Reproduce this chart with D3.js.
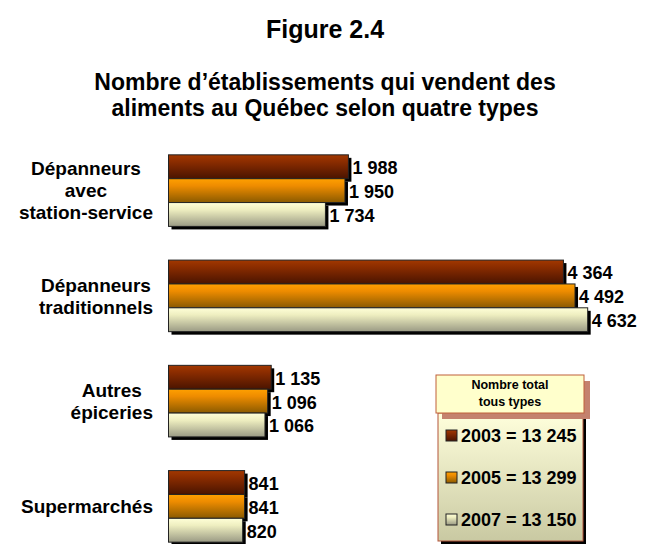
<!DOCTYPE html>
<html>
<head>
<meta charset="utf-8">
<script src="https://cdn.jsdelivr.net/npm/d3@7"></script>
<style>
  body { margin: 0; background: #fff; }
  text { font-family: "Liberation Sans", Arial, sans-serif; font-weight: bold; }
</style>
</head>
<body>
<script>
// Figure 2.4 - etablissements alimentaires au Quebec

var categories = [
  ["Dépanneurs", "avec", "station-service"],
  ["Dépanneurs", "traditionnels"],
  ["Autres", "épiceries"],
  ["Supermarchés"]
];
var years = ["2003", "2005", "2007"];
var v2003 = [1988, 4364, 1135, 841];
var v2005 = [1950, 4492, 1096, 841];
var v2007 = [1734, 4632, 1066, 820];
var totals = [13245, 13299, 13150];

var width = 650, height = 544;

var svg = d3.select("body").append("svg")
  .attr("width", width)
  .attr("height", height);

var fr = d3.formatLocale({decimal: ",", thousands: " ", grouping: [3], currency: ["", ""]});
var fmt = fr.format(",d");

// gradients
var grads = [
  ["#a33800", "#8a2c00", "#4a1400"],
  ["#ffa000", "#ee8c00", "#8a5a00"],
  ["#ffffd8", "#eeeec0", "#9a9a84"]
];
var defs = svg.append("defs");
grads.forEach(function(g, i) {
  var lg = defs.append("linearGradient")
    .attr("id", "g" + i)
    .attr("x1", 0).attr("y1", 0).attr("x2", 0).attr("y2", 1);
  lg.append("stop").attr("offset", "0%").attr("stop-color", g[0]);
  lg.append("stop").attr("offset", "30%").attr("stop-color", g[1]);
  lg.append("stop").attr("offset", "100%").attr("stop-color", g[2]);
});
var lg2 = defs.append("linearGradient").attr("id", "legbg")
  .attr("x1", 0).attr("y1", 0).attr("x2", 0).attr("y2", 1);
lg2.append("stop").attr("offset", "0%").attr("stop-color", "#ffffdc");
lg2.append("stop").attr("offset", "100%").attr("stop-color", "#c9c9a2");

// titre
svg.append("text")
  .attr("x", 325).attr("y", 38)
  .attr("text-anchor", "middle")
  .style("font-size", "25px")
  .text("Figure 2.4");
svg.append("text")
  .attr("x", 325).attr("y", 90)
  .attr("text-anchor", "middle")
  .style("font-size", "23px")
  .text("Nombre d’établissements qui vendent des");
svg.append("text")
  .attr("x", 325).attr("y", 116)
  .attr("text-anchor", "middle")
  .style("font-size", "23px")
  .text("aliments au Québec selon quatre types");

// scales
var x = d3.scaleLinear().domain([0, 5000]).range([168.5, 168.5 + 5000 * 0.0905]);
var y = d3.scaleBand().domain(d3.range(categories.length))
  .range([138, 559]).paddingInner(0.32).paddingOuter(0.16);
var yIn = d3.scaleBand().domain(years).range([0, y.bandwidth()]);

var rows = categories.map(function(c, i) {
  return [v2003[i], v2005[i], v2007[i]].map(function(v, j) {
    return {cat: i, year: years[j], j: j, value: v};
  });
});

var groups = svg.selectAll("g.grp")
  .data(rows)
  .enter().append("g")
  .attr("class", "grp")
  .attr("transform", function(d, i) { return "translate(0," + y(i) + ")"; });

// ombres
groups.selectAll("rect.sh")
  .data(function(d) { return d; })
  .enter().append("rect")
  .attr("class", "sh")
  .attr("x", x(0) + 3)
  .attr("y", function(d) { return yIn(d.year) + 3; })
  .attr("width", function(d) { return x(d.value) - x(0); })
  .attr("height", yIn.bandwidth())
  .attr("fill", "#000");

groups.selectAll("rect.bar")
  .data(function(d) { return d; })
  .enter().append("rect")
  .attr("class", "bar")
  .attr("x", x(0))
  .attr("y", function(d) { return yIn(d.year); })
  .attr("width", function(d) { return x(d.value) - x(0); })
  .attr("height", yIn.bandwidth())
  .attr("fill", function(d) { return "url(#g" + d.j + ")"; })
  .attr("stroke", "#222")
  .attr("stroke-width", 1);

groups.selectAll("text.val")
  .data(function(d) { return d; })
  .enter().append("text")
  .attr("class", "val")
  .attr("x", function(d) { return x(d.value) + 4; })
  .attr("y", function(d) { return yIn(d.year) + yIn.bandwidth() / 2 + 1; })
  .attr("dy", "0.36em")
  .style("font-size", "18px")
  .text(function(d) { return fmt(d.value); });

// etiquettes de categories
svg.selectAll("text.cat")
  .data(categories)
  .enter().append("text")
  .attr("class", "cat")
  .style("font-size", "19px")
  .attr("text-anchor", "middle")
  .each(function(lines, i) {
    var t = d3.select(this);
    var cy = y(i) + y.bandwidth() / 2;
    var lh = 22;
    lines.forEach(function(l, k) {
      t.append("tspan")
        .attr("x", 0)
        .attr("y", cy + (k - (lines.length - 1) / 2) * lh)
        .attr("dy", "0.36em")
        .text(l);
    });
    var w = this.getBBox().width;
    t.selectAll("tspan").attr("x", 153 - w / 2);
  });

// legende
var leg = svg.append("g");
leg.append("rect").attr("x", 441).attr("y", 416).attr("width", 145).attr("height", 128).attr("fill", "#000");
leg.append("rect").attr("x", 438).attr("y", 413).attr("width", 145).attr("height", 128)
  .attr("fill", "url(#legbg)").attr("stroke", "#b4553a").attr("stroke-width", 1);
leg.append("rect").attr("x", 442).attr("y", 381).attr("width", 148).attr("height", 38)
  .attr("fill", "#c4826e");
leg.append("rect").attr("x", 436).attr("y", 375).attr("width", 148).attr("height", 38)
  .attr("fill", "#ffffcc").attr("stroke", "#c0603a").attr("stroke-width", 1);
leg.append("text").attr("x", 510).attr("y", 389).attr("text-anchor", "middle")
  .style("font-size", "12.5px").text("Nombre total");
leg.append("text").attr("x", 510).attr("y", 406).attr("text-anchor", "middle")
  .style("font-size", "12.5px").text("tous types");

var ly = d3.scalePoint().domain(years).range([436, 520]);
var items = leg.selectAll("g.it")
  .data(years)
  .enter().append("g")
  .attr("class", "it")
  .attr("transform", function(d) { return "translate(446," + ly(d) + ")"; });
items.append("rect")
  .attr("x", 0).attr("y", -6).attr("width", 11).attr("height", 11)
  .attr("fill", function(d, i) { return "url(#g" + i + ")"; })
  .attr("stroke", "#222");
items.append("text")
  .attr("x", 15).attr("dy", "0.36em")
  .style("font-size", "18px")
  .text(function(d, i) { return d + " = " + fmt(totals[i]); });
</script>
</body>
</html>
